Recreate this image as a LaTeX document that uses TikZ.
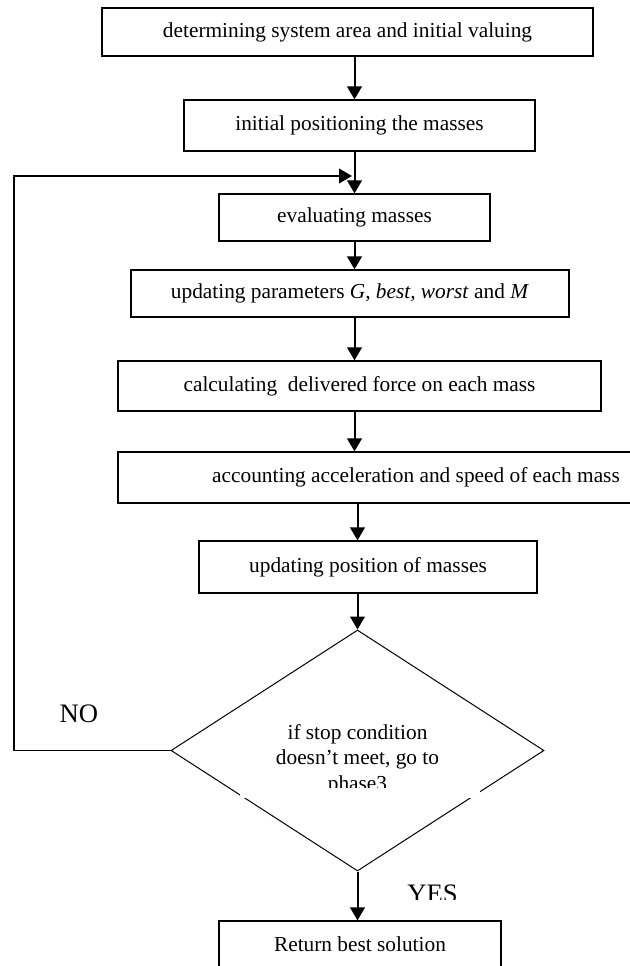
\documentclass[tikz,border=0pt]{standalone}
\usepackage{fontspec}
\setmainfont{Liberation Serif}
\usetikzlibrary{arrows.meta,shapes.geometric,calc}

\tikzset{
  procbox/.style={draw, line width=0.9pt, inner sep=0pt, align=center, font=\fontsize{16}{19}\selectfont},
  decision/.style={draw, diamond, line width=0.75pt, inner sep=0pt},
  flowarr/.style={line width=1.5pt, -{Triangle[length=9.75pt,width=11pt]}},
  looparr/.style={line width=1.2pt, -{Triangle[length=9.75pt,width=11pt]}},
  answer/.style={inner sep=0pt, anchor=base, font=\fontsize{20}{24}\selectfont}
}

\begin{document}
\begin{tikzpicture}[x=0.75pt,y=0.75pt,yscale=-1,xscale=1]
\useasboundingbox (0,0) rectangle (629,966);

%Rectangle: system area
\node[procbox, minimum width=368.25pt, minimum height=36pt] (area) at (347.5,32) {determining system area and initial valuing};
%Rectangle: positioning
\node[procbox, minimum width=263.25pt, minimum height=38.25pt] (place) at (359.5,125.5) {initial positioning the masses};
%Rectangle: evaluating
\node[procbox, minimum width=203.25pt, minimum height=35.25pt] (evalm) at (354.5,217.5) {evaluating masses};
%Rectangle: parameters
\node[procbox, minimum width=328.5pt, minimum height=35.25pt] (params) at (350,293.5) {updating parameters \textit{G, best, worst} and \textit{M}};
%Rectangle: force
\node[procbox, minimum width=362.25pt, minimum height=37.5pt] (force) at (359.5,386) {calculating~ delivered force on each mass};
%Rectangle: acceleration
\node[procbox, minimum width=447pt, minimum height=38.25pt] (accel) at (416,477.5) {accounting acceleration and speed of each mass};
%Rectangle: position
\node[procbox, minimum width=253.5pt, minimum height=39pt] (move) at (368,567) {updating position of masses};
%Diamond: stop condition
\node[decision, minimum width=279.75pt, minimum height=180.75pt] (stop) at (357.5,750.5) {};
\node[inner sep=0pt, align=center, font=\fontsize{16}{19}\selectfont] (stoptxt) at ($(stop.center)+(0,9)$) {if stop condition\\doesn’t meet, go to\\phase3};
%Rectangle: result
\node[procbox, minimum width=211.5pt, minimum height=35.25pt] (result) at (360,944.5) {Return best solution};

%Loop corner points
\coordinate (turn) at (14,176);
\coordinate (join) at (352,176);

%Straight Lines
\draw[flowarr] (area.south -| evalm.center) -- (place.north -| evalm.center);
\draw[flowarr] (place.south -| evalm.center) -- (evalm.north);
\draw[flowarr] (evalm.south) -- (params.north -| evalm.center);
\draw[flowarr] (params.south -| evalm.center) -- (force.north -| evalm.center);
\draw[flowarr] (force.south -| evalm.center) -- (accel.north -| evalm.center);
\draw[flowarr] (accel.south -| stop.center) -- (move.north -| stop.center);
\draw[flowarr] (move.south -| stop.center) -- (stop.north);
\draw[flowarr] (stop.south) -- (result.north -| stop.center);
%Loop back
\draw[looparr] (stop.west) -| (turn) -- (join);

%Labels
\node[answer] (no) at (79,722.5) {NO};
\node[answer] (yes) at (432.5,902.6) {YES};

%White patches
\fill[white] (240,788) rectangle (480,798);
\fill[white] (400,900) rectangle (468,908);

\end{tikzpicture}
\end{document}
